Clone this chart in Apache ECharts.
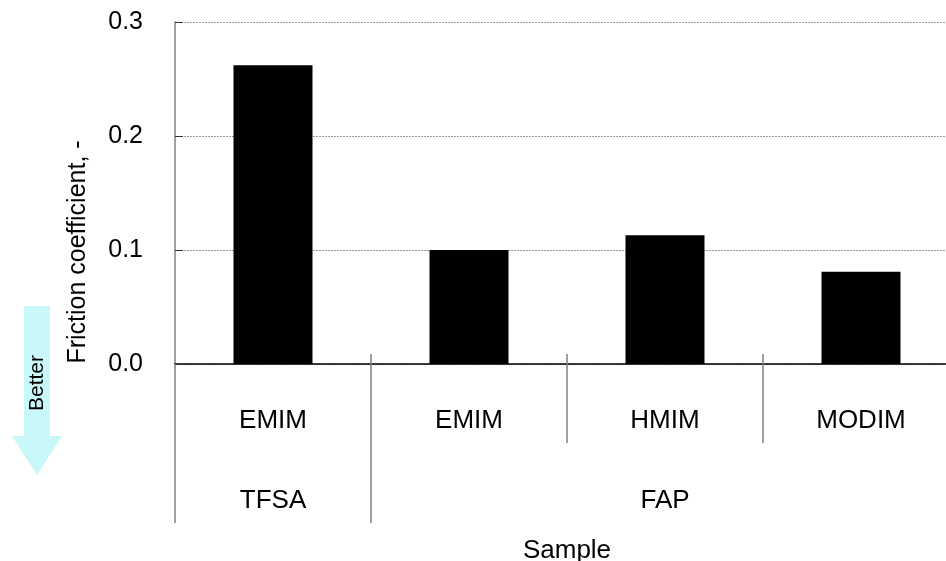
<!DOCTYPE html>
<html><head><meta charset="utf-8">
<script src="https://cdn.jsdelivr.net/npm/echarts@6/dist/echarts.min.js"></script>
<style>html,body{margin:0;padding:0;background:#fff}#c{width:946px;height:561px}</style>
</head><body><div id="c"></div>
<script>
const cations = ['EMIM', 'EMIM', 'HMIM', 'MODIM'];
const anionGroups = ['TFSA', '', 'FAP', ''];
const friction = [0.262, 0.100, 0.113, 0.081];
const yTicks = [0.0, 0.1, 0.2, 0.3];

const font = 'Liberation Sans, Arial, sans-serif';
const chart = echarts.init(document.getElementById('c'));
chart.setOption({
  animation: false,
  grid: { left: 175, top: 22, width: 784, height: 342, outerBoundsMode: 'none' },
  xAxis: [
    {
      type: 'category', data: cations, position: 'bottom',
      axisLine: { lineStyle: { color: '#000', width: 1.5 } },
      axisTick: { show: true, length: 79, lineStyle: { color: '#808080', width: 1.5 },
        interval: 0 },
      axisLabel: { margin: 44, fontSize: 26, color: '#000', fontFamily: font }
    },
    {
      type: 'category', data: anionGroups, position: 'bottom',
      axisLine: { show: false },
      axisTick: { show: true, length: 159, lineStyle: { color: '#808080', width: 1.5 },
        interval: function (i) { return i === 0 || i === 1; } },
      axisLabel: { margin: 124, fontSize: 26, color: '#000', fontFamily: font, interval: 0 },
      name: 'Sample', nameLocation: 'middle', nameGap: 174,
      nameTextStyle: { fontSize: 26, color: '#000', fontFamily: font }
    },
    {
      type: 'category', data: cations, position: 'bottom',
      axisLine: { show: false },
      axisTick: { show: true, inside: true, length: 10, lineStyle: { color: '#808080', width: 1.5 },
        interval: function (i) { return i > 0; } },
      axisLabel: { show: false }
    }
  ],
  yAxis: {
    type: 'value', min: 0, max: 0.3, interval: 0.1,
    axisLine: { show: true, lineStyle: { color: '#808080', width: 1.5 } },
    axisTick: { show: true, inside: true, length: 8, lineStyle: { color: '#333' } },
    splitLine: { show: true, lineStyle: { color: '#999', type: [2, 1], width: 1 } },
    axisLabel: { margin: 32, fontSize: 25, color: '#000', fontFamily: font,
      formatter: v => v.toFixed(1) }
  },
  series: [{
    type: 'bar', data: friction, xAxisIndex: 0, barWidth: 79,
    itemStyle: { color: '#000' }
  }],
  graphic: [
    { type: 'text', x: 78, y: 252, rotation: Math.PI / 2,
      style: { text: 'Friction coefficient, -', fontSize: 25, fill: '#000', fontFamily: font,
        align: 'center', verticalAlign: 'middle' }, z: 10 },
    { type: 'polygon', shape: { points: [[24, 306], [50, 306], [50, 436], [62, 436], [37, 475], [12, 436], [24, 436]] },
      style: { fill: '#c8f8fa' } },
    { type: 'text', x: 37, y: 383, rotation: Math.PI / 2,
      style: { text: 'Better', fontSize: 21, fill: '#000', fontFamily: font,
        align: 'center', verticalAlign: 'middle' } }
  ]
});
</script></body></html>
